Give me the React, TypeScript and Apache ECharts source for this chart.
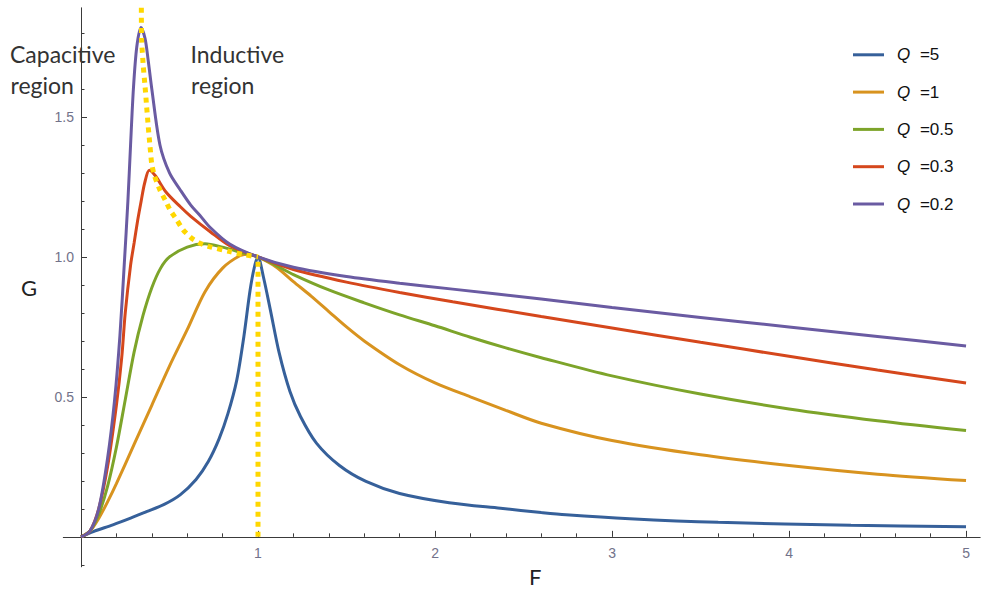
import React, { useEffect, useRef } from 'react';
import * as echarts from 'echarts';

// Tick positions and labels
const xMajorTicks = [1, 2, 3, 4, 5];
const xMinorTicks = [0.2, 0.4, 0.6, 0.8, 1.2, 1.4, 1.6, 1.8, 2.2, 2.4, 2.6, 2.8, 3.2, 3.4, 3.6, 3.8, 4.2, 4.4, 4.6, 4.8];
const yMajorTicks = [0.5, 1.0, 1.5];
const yMinorTicks = [-0.1, 0.1, 0.2, 0.3, 0.4, 0.6, 0.7, 0.8, 0.9, 1.1, 1.2, 1.3, 1.4, 1.6, 1.7, 1.8];

const seriesNames = ['Q =5', 'Q =1', 'Q =0.5', 'Q =0.3', 'Q =0.2'];
const seriesColors = ['#36609a', '#d8931f', '#7da42a', '#d5471c', '#6a5ba2'];

// Values: [F, G]
const gainQ5 = [
  [0, 0], [0.07, 0.019], [0.18, 0.043], [0.28, 0.067], [0.37, 0.09], [0.47, 0.116], [0.56, 0.15],
  [0.65, 0.205], [0.72, 0.27], [0.78, 0.35], [0.83, 0.44], [0.88, 0.56], [0.92, 0.715], [0.955, 0.88],
  [0.98, 0.965], [1.0, 1.0], [1.03, 0.93], [1.07, 0.81], [1.12, 0.656], [1.18, 0.52], [1.24, 0.43],
  [1.33, 0.335], [1.46, 0.255], [1.61, 0.198], [1.8, 0.155], [2.08, 0.122], [2.37, 0.102], [2.6, 0.087],
  [2.74, 0.079], [3.1, 0.065], [3.6, 0.052], [4.35, 0.041], [5.0, 0.036],
];
const gainQ1 = [
  [0, 0], [0.05, 0.02], [0.1, 0.066], [0.15, 0.125], [0.2, 0.19], [0.3, 0.33], [0.4, 0.47], [0.5, 0.61],
  [0.6, 0.74], [0.7, 0.875], [0.8, 0.96], [0.9, 1.005], [0.95, 1.01], [1.0, 1.0], [1.1, 0.965],
  [1.2, 0.912], [1.3, 0.86], [1.4, 0.805], [1.5, 0.75], [1.6, 0.7], [1.8, 0.615], [2.0, 0.55],
  [2.2, 0.5], [2.4, 0.452], [2.6, 0.406], [3.0, 0.344], [3.5, 0.293], [4.0, 0.255], [4.5, 0.224], [5.0, 0.201],
];
const gainQ05 = [
  [0, 0], [0.05, 0.02], [0.1, 0.08], [0.15, 0.18], [0.2, 0.32], [0.25, 0.49], [0.3, 0.66], [0.35, 0.79],
  [0.4, 0.89], [0.45, 0.96], [0.5, 1.0], [0.6, 1.035], [0.7, 1.047], [0.8, 1.035], [0.9, 1.017], [1.0, 1.0],
  [1.1, 0.97], [1.2, 0.937], [1.4, 0.882], [1.6, 0.836], [1.8, 0.793], [2.0, 0.754], [2.2, 0.713],
  [2.4, 0.675], [2.6, 0.64], [3.0, 0.575], [3.5, 0.51], [4.0, 0.457], [4.5, 0.415], [5.0, 0.38],
];
const gainQ03 = [
  [0, 0], [0.05, 0.02], [0.1, 0.1], [0.15, 0.25], [0.2, 0.47], [0.23, 0.64], [0.25, 0.8], [0.28, 0.97],
  [0.3, 1.05], [0.32, 1.13], [0.34, 1.2], [0.36, 1.265], [0.386, 1.31], [0.42, 1.29], [0.48, 1.232],
  [0.56, 1.18], [0.62, 1.145], [0.73, 1.09], [0.84, 1.04], [1.0, 1.0], [1.2, 0.955], [1.5, 0.91],
  [1.8, 0.873], [2.1, 0.84], [2.6, 0.787], [3.0, 0.746], [3.5, 0.695], [4.0, 0.645], [4.5, 0.596], [5.0, 0.55],
];
const gainQ02 = [
  [0, 0], [0.05, 0.02], [0.1, 0.1], [0.15, 0.28], [0.19, 0.49], [0.22, 0.72], [0.245, 0.98], [0.265, 1.2],
  [0.28, 1.4], [0.296, 1.6], [0.315, 1.75], [0.339, 1.82], [0.362, 1.78], [0.38, 1.7], [0.4, 1.6],
  [0.446, 1.4], [0.5, 1.3], [0.56, 1.24], [0.62, 1.185], [0.67, 1.15], [0.73, 1.105], [0.84, 1.046],
  [1.0, 1.0], [1.2, 0.963], [1.5, 0.93], [1.8, 0.906], [2.1, 0.885], [2.6, 0.85], [3.0, 0.819],
  [3.5, 0.784], [4.0, 0.75], [4.5, 0.716], [5.0, 0.682],
];
const peakLocus = [
  [0.341, 1.89], [0.342, 1.78], [0.352, 1.68], [0.362, 1.608], [0.371, 1.536], [0.38, 1.465],
  [0.39, 1.394], [0.4, 1.33], [0.415, 1.29], [0.446, 1.239], [0.475, 1.204], [0.503, 1.168],
  [0.541, 1.132], [0.578, 1.096], [0.625, 1.067], [0.672, 1.049], [0.729, 1.036], [0.842, 1.019],
  [0.92, 1.008], [1.0, 1.0],
];
const resonanceLine = [[1.0, 0], [1.0, 1.0]];

const gainSets = [gainQ5, gainQ1, gainQ05, gainQ03, gainQ02];

const axisColor = '#3a3a3a';
const tickLabelColor = '#72728a';
const textFont = 'Lato';

export default function App() {
  const ref = useRef<HTMLDivElement>(null);
  useEffect(() => {
    document.body.style.margin = '0';
    const chart = echarts.init(ref.current as HTMLDivElement, null, { renderer: 'svg' });
    const mainSeries = gainSets.map((d, i) => ({
      name: seriesNames[i],
      type: 'line',
      data: d,
      symbol: 'none',
      smooth: 0.3,
      lineStyle: { color: seriesColors[i], width: 3 },
      itemStyle: { color: seriesColors[i] },
      z: 2 + i,
    }));
    const xOffset = -29.95;
    const yOffset = -17.7;
    chart.setOption({
      animation: false,
      backgroundColor: '#ffffff',
      grid: { left: 63.3, top: 7.8, width: 916.9, height: 559, containLabel: false },
      xAxis: [
        {
          type: 'value', min: -0.1, max: 5.08, position: 'bottom', offset: xOffset,
          axisLine: { show: true, onZero: false, lineStyle: { color: axisColor, width: 1 } },
          axisTick: { show: true, inside: true, length: 6, customValues: xMajorTicks, lineStyle: { color: axisColor } },
          axisLabel: { show: true, customValues: xMajorTicks, margin: 9, color: tickLabelColor, fontSize: 14, fontFamily: 'Liberation Sans' },
          splitLine: { show: false },
        },
        {
          type: 'value', min: -0.1, max: 5.08, position: 'bottom', offset: xOffset,
          axisLine: { show: false, onZero: false },
          axisTick: { show: true, inside: true, length: 3.5, customValues: xMinorTicks, lineStyle: { color: axisColor } },
          axisLabel: { show: false },
          splitLine: { show: false },
        },
      ],
      yAxis: [
        {
          type: 'value', min: -0.107, max: 1.89, position: 'left', offset: yOffset,
          axisLine: { show: true, onZero: false, lineStyle: { color: axisColor, width: 1 } },
          axisTick: { show: true, inside: true, length: 6, customValues: yMajorTicks, lineStyle: { color: axisColor } },
          axisLabel: {
            show: true, customValues: yMajorTicks, margin: 7, color: tickLabelColor, fontSize: 14, fontFamily: 'Liberation Sans',
            formatter: (v: number) => v.toFixed(1),
          },
          splitLine: { show: false },
        },
        {
          type: 'value', min: -0.107, max: 1.89, position: 'left', offset: yOffset,
          axisLine: { show: false, onZero: false },
          axisTick: { show: true, inside: true, length: 3.5, customValues: yMinorTicks, lineStyle: { color: axisColor } },
          axisLabel: { show: false },
          splitLine: { show: false },
        },
      ],
      legend: {
        data: seriesNames,
        orient: 'vertical',
        left: 853,
        top: 46.3,
        padding: 0,
        icon: 'rect',
        itemWidth: 31,
        itemHeight: 3,
        itemGap: 20.3,
        formatter: (n: string) => `{q|Q}{t|${n.slice(1)}}`,
        textStyle: {
          rich: {
            q: { fontStyle: 'italic', fontSize: 17, fontFamily: 'Liberation Sans', color: '#111', padding: [0, 5, 0, 8], lineHeight: 16 },
            t: { fontSize: 17, fontFamily: 'Liberation Sans', color: '#111', lineHeight: 16 },
          },
        },
      },
      series: [
        ...mainSeries,
        {
          name: 'peak locus', type: 'line', data: peakLocus, symbol: 'none', smooth: 0.2,
          lineStyle: { color: '#ffd700', width: 5, type: [5, 5] }, z: 10,
        },
        {
          name: 'resonance', type: 'line', data: resonanceLine, symbol: 'none',
          lineStyle: { color: '#ffd700', width: 5, type: [5, 5] }, z: 10,
        },
      ],
      graphic: [
        { type: 'text', x: 10, y: 53.5, style: { text: 'Capacitive', fontSize: 23, fontFamily: textFont, fill: '#333', verticalAlign: 'middle', align: 'left' } },
        { type: 'text', x: 10.5, y: 85, style: { text: 'region', fontSize: 23, fontFamily: textFont, fill: '#333', verticalAlign: 'middle', align: 'left' } },
        { type: 'text', x: 190.5, y: 53.5, style: { text: 'Inductive', fontSize: 23, fontFamily: textFont, fill: '#333', verticalAlign: 'middle', align: 'left' } },
        { type: 'text', x: 191, y: 85, style: { text: 'region', fontSize: 23, fontFamily: textFont, fill: '#333', verticalAlign: 'middle', align: 'left' } },
        { type: 'text', x: 21, y: 287.5, style: { text: 'G', fontSize: 22, fontFamily: textFont, fill: '#222', verticalAlign: 'middle', align: 'left' } },
        { type: 'text', x: 529, y: 576, style: { text: 'F', fontSize: 22, fontFamily: textFont, fill: '#222', verticalAlign: 'middle', align: 'left' } },
      ],
    });
    return () => chart.dispose();
  }, []);
  return <div ref={ref} style={{ position: 'absolute', left: 0, top: 0, width: 982, height: 590, background: '#fff' }} />;
}
